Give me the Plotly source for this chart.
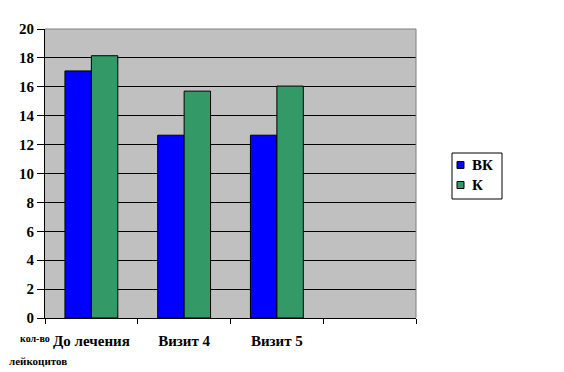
import plotly.graph_objects as go

categories = ["До лечения", "Визит 4", "Визит 5", " "]
vk_values = [17.1, 12.65, 12.65, None]
k_values = [18.15, 15.7, 16.05, None]
y_ticks = [0, 2, 4, 6, 8, 10, 12, 14, 16, 18, 20]
series_names = ["ВК", "К"]
series_colors = ["#0000FF", "#339966"]

font_family = "Times New Roman, Liberation Serif, serif"
L, R, T, B, W, H = 45, 148, 29, 54, 564, 372
PW, PH = W - L - R, H - T - B


def px(x):
    return (x - L) / PW


def py(y):
    return (H - B - y) / PH


fig = go.Figure()
for name, vals, col in zip(series_names, [vk_values, k_values], series_colors):
    fig.add_trace(go.Bar(name=name, x=categories, y=vals,
                         marker=dict(color=col, line=dict(color="black", width=1))))

fig.update_layout(
    width=W, height=H,
    margin=dict(l=L, r=R, t=T, b=B),
    paper_bgcolor="white",
    plot_bgcolor="#C0C0C0",
    barmode="group",
    bargap=0.43,
    bargroupgap=0,
    font=dict(family=font_family, size=15, color="black"),
    showlegend=False,
)
fig.update_xaxes(
    type="category",
    categoryorder="array", categoryarray=categories,
    tickson="boundaries",
    ticks="outside", ticklen=5, tickcolor="black",
    ticklabelstandoff=9,
    showline=True, linecolor="black", linewidth=1,
    showgrid=False, mirror=False,
    tickfont=dict(family=font_family, size=15, color="black", weight="bold"),
    range=[-0.5, 3.5],
)
fig.update_yaxes(
    range=[0, 20],
    tickvals=y_ticks,
    ticks="outside", ticklen=7, tickcolor="black",
    showline=True, linecolor="black", linewidth=1,
    showgrid=True, gridcolor="black", gridwidth=1,
    zeroline=False,
    tickfont=dict(family=font_family, size=15, color="black", weight="bold"),
)
# gray top/right plot-area border
fig.add_shape(type="line", xref="paper", yref="paper", x0=0, x1=1, y0=1, y1=1,
              line=dict(color="#808080", width=1))
fig.add_shape(type="line", xref="paper", yref="paper", x0=1, x1=1, y0=0, y1=1,
              line=dict(color="#808080", width=1))

# legend box (drawn)
fig.add_shape(type="rect", xref="paper", yref="paper",
              x0=px(452), x1=px(502), y0=py(153), y1=py(199),
              line=dict(color="black", width=1), fillcolor="white")
for i, (name, col) in enumerate(zip(series_names, series_colors)):
    cy = 165 + 20 * i
    fig.add_shape(type="rect", xref="paper", yref="paper",
                  x0=px(457), x1=px(464), y0=py(cy - 3.5), y1=py(cy + 3.5),
                  line=dict(color="black", width=1), fillcolor=col)
    fig.add_annotation(text="<b>%s</b>" % name, xref="paper", yref="paper",
                       x=px(470), y=py(cy), xanchor="left", yanchor="middle",
                       showarrow=False,
                       font=dict(family=font_family, size=15, color="black"))

fig.add_annotation(text="<b>кол-во</b>", xref="paper", yref="paper",
                   x=px(35), y=py(338), xanchor="center", yanchor="middle",
                   showarrow=False,
                   font=dict(family=font_family, size=10, color="black"))
fig.add_annotation(text="<b>лейкоцитов</b>", xref="paper", yref="paper",
                   x=px(38), y=py(361), xanchor="center", yanchor="middle",
                   showarrow=False,
                   font=dict(family=font_family, size=11, color="black"))

fig.write_html("out.html")
